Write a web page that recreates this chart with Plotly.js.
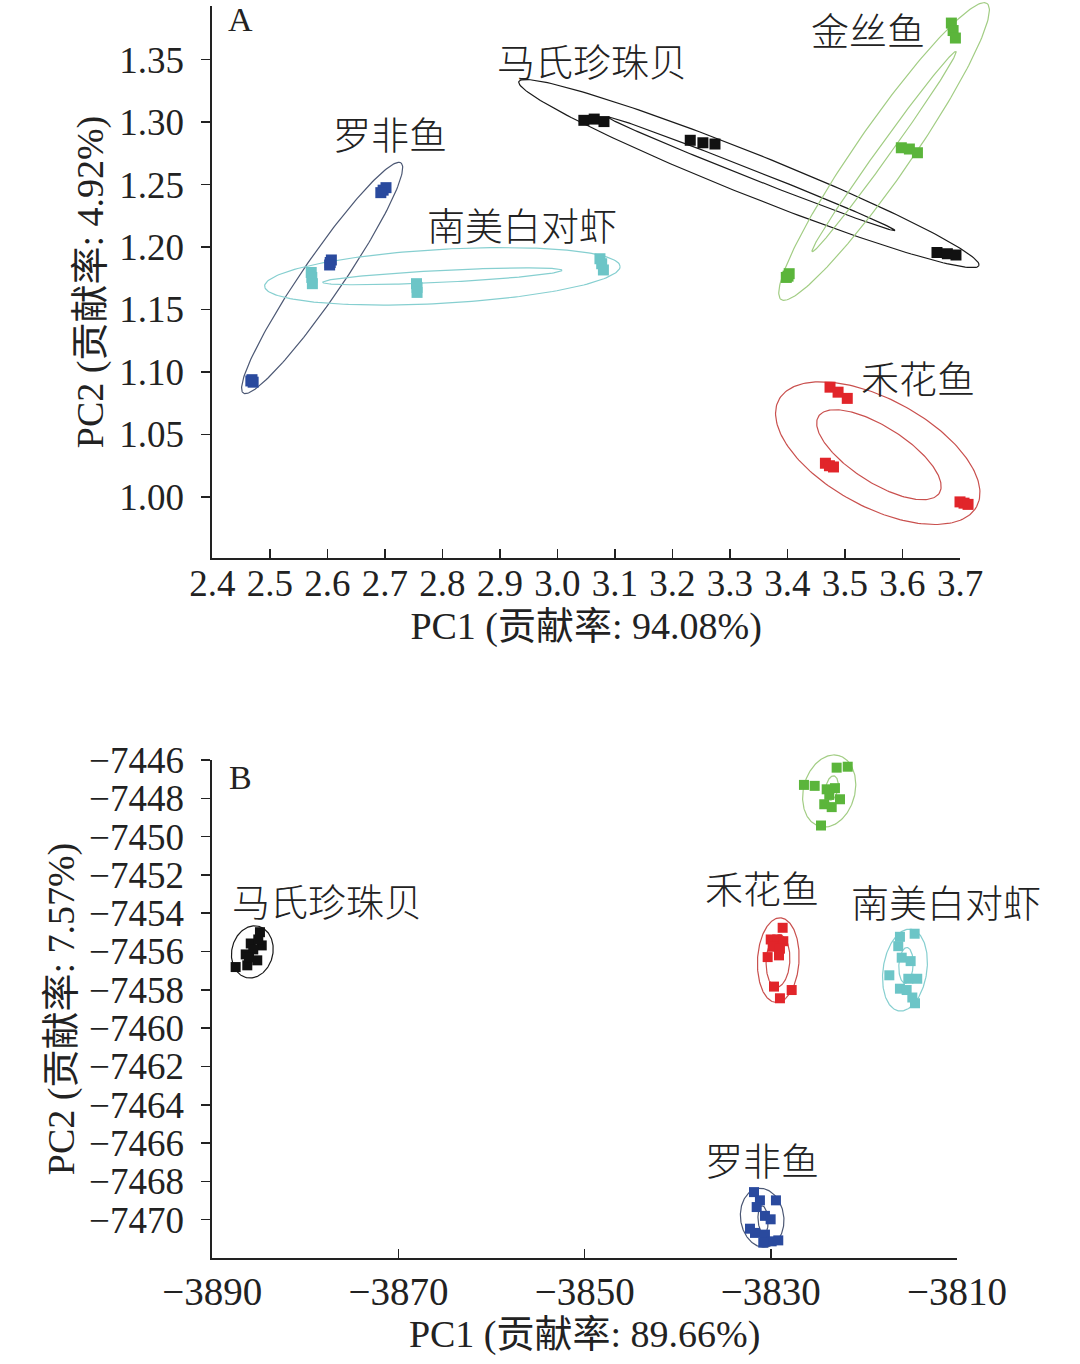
<!DOCTYPE html>
<html>
<head>
<meta charset="utf-8">
<script src="https://cdn.plot.ly/plotly-3.0.1.min.js"></script>
<style>html,body{margin:0;padding:0;background:#fff;}#chart{width:1080px;height:1364px;}</style>
</head>
<body>
<div id="chart"></div>
<script>
// ---------- Panel A data ----------
const groups = ['罗非鱼', '南美白对虾', '马氏珍珠贝', '金丝鱼', '禾花鱼'];

const tilapiaA_x = [2.697, 2.702, 2.693, 2.605, 2.607, 2.604, 2.467, 2.471, 2.469];
const tilapiaA_y = [1.246, 1.248, 1.244, 1.188, 1.190, 1.186, 1.093, 1.092, 1.094];
const shrimpA_x  = [2.572, 2.573, 2.574, 2.755, 2.756, 2.756, 3.074, 3.077, 3.080];
const shrimpA_y  = [1.180, 1.176, 1.171, 1.171, 1.168, 1.164, 1.191, 1.187, 1.182];
const pearlA_x   = [3.046, 3.064, 3.081, 3.231, 3.253, 3.274, 3.660, 3.678, 3.693];
const pearlA_y   = [1.302, 1.303, 1.301, 1.286, 1.284, 1.283, 1.196, 1.195, 1.194];
const goldA_x    = [3.685, 3.688, 3.692, 3.598, 3.612, 3.626, 3.398, 3.403, 3.401];
const goldA_y    = [1.380, 1.374, 1.368, 1.280, 1.279, 1.276, 1.176, 1.179, 1.177];
const carpA_x    = [3.474, 3.488, 3.504, 3.466, 3.473, 3.480, 3.700, 3.707, 3.714];
const carpA_y    = [1.088, 1.084, 1.079, 1.027, 1.025, 1.024, 0.996, 0.995, 0.994];

// confidence ellipses: centre, one end of the major axis, minor/major ratio
const ellA_group = [0, 1, 1, 2, 2, 3, 3, 4, 4];
const ellA_cx = [2.591, 2.800, 2.800, 3.333, 3.338, 3.568, 3.568, 3.557, 3.559];
const ellA_cy = [1.1756, 1.1769, 1.1769, 1.2593, 1.2590, 1.2770, 1.2770, 1.0351, 1.0338];
const ellA_ex = [2.728, 3.109, 3.008, 3.733, 3.587, 3.747, 3.693, 3.729, 3.664];
const ellA_ey = [1.2679, 1.1849, 1.1817, 1.1855, 1.2136, 1.3957, 1.3572, 0.9923, 1.0030];
const ellA_ratio = [0.145, 0.152, 0.05, 0.085, 0.028, 0.15, 0.05, 0.48, 0.39];

const labelA_x = [2.709, 2.939, 3.060, 3.540, 3.627];
const labelA_y = [1.292, 1.219, 1.351, 1.376, 1.0964];

// ---------- Panel B data ----------
const pearlB_x = [-3887.49, -3886.24, -3886.41, -3885.87, -3884.88, -3884.69, -3885.17, -3885.60, -3885.06, -3886.06];
const pearlB_y = [-7456.81, -7456.72, -7456.15, -7455.58, -7454.99, -7455.68, -7456.46, -7455.89, -7455.37, -7456.30];
const goldB_x  = [-3822.93, -3821.74, -3826.44, -3825.29, -3824.00, -3823.11, -3823.72, -3822.57, -3824.26, -3823.46, -3824.61];
const goldB_y  = [-7446.40, -7446.35, -7447.30, -7447.35, -7447.53, -7447.47, -7447.82, -7448.05, -7448.31, -7448.46, -7449.42];
const carpB_x  = [-3828.73, -3830.01, -3829.31, -3828.66, -3829.80, -3829.02, -3830.34, -3829.12, -3829.66, -3829.02, -3827.76];
const carpB_y  = [-7454.76, -7455.37, -7455.37, -7455.46, -7455.75, -7455.85, -7456.29, -7456.20, -7457.83, -7458.44, -7458.01];
const shrimpB_x = [-3816.13, -3814.55, -3816.31, -3815.94, -3814.98, -3817.27, -3815.23, -3814.27, -3816.13, -3815.41, -3814.80, -3814.51];
const shrimpB_y = [-7455.23, -7455.07, -7455.72, -7456.32, -7456.50, -7457.24, -7457.42, -7457.42, -7457.94, -7458.01, -7458.40, -7458.70];
const tilapiaB_x = [-3831.81, -3831.17, -3829.45, -3831.52, -3830.63, -3830.02, -3832.24, -3831.70, -3830.63, -3829.91, -3829.20, -3830.81];
const tilapiaB_y = [-7468.56, -7468.99, -7468.99, -7469.34, -7469.80, -7469.98, -7470.47, -7470.69, -7470.78, -7471.13, -7471.08, -7471.20];

const ellB_group = [2, 3, 3, 4, 4, 1, 1, 0, 0];
const ellB_cx = [-3885.70, -3823.73, -3823.43, -3829.20, -3829.23, -3815.59, -3815.48, -3830.93, -3830.84];
const ellB_cy = [-7456.02, -7447.62, -7447.46, -7456.45, -7456.49, -7456.97, -7456.72, -7469.90, -7470.01];
const ellB_ex = [-3885.06, -3822.70, -3823.22, -3828.96, -3829.07, -3814.94, -3815.37, -3831.38, -3830.95];
const ellB_ey = [-7454.68, -7445.77, -7446.83, -7454.24, -7455.12, -7454.84, -7455.79, -7468.37, -7469.27];
const ellB_ratio = [0.78, 0.70, 0.5, 0.49, 0.45, 0.53, 0.4, 0.73, 0.35];

const labelB_x = [-3830.96, -3811.20, -3877.66, -3822.27, -3830.96];
const labelB_y = [-7466.82, -7453.34, -7453.29, -7444.33, -7452.61];

// ---------- ticks ----------
const xA_ticks = [2.4, 2.5, 2.6, 2.7, 2.8, 2.9, 3.0, 3.1, 3.2, 3.3, 3.4, 3.5, 3.6, 3.7];
const yA_ticks = [1.00, 1.05, 1.10, 1.15, 1.20, 1.25, 1.30, 1.35];
const xB_ticks = [-3890, -3870, -3850, -3830, -3810];
const yB_ticks = [-7446, -7448, -7450, -7452, -7454, -7456, -7458, -7460, -7462, -7464, -7466, -7468, -7470];

const titles = {
  xA: 'PC1 (贡献率: 94.08%)', yA: 'PC2 (贡献率: 4.92%)',
  xB: 'PC1 (贡献率: 89.66%)', yB: 'PC2 (贡献率: 7.57%)'
};

// ---------- styles / geometry ----------
const markerColor = ['#2a4a9e', '#6cc5c7', '#111111', '#5bb53b', '#e1252a'];
const ellipseColor = ['#4c5874', '#86cfd0', '#1a1a1a', '#a2cd84', '#c9504e'];
const W = 1080, H = 1364;

// frame (visible axes): pixel edges and nominal ranges
const frA = {x0: 212.3, x1: 960, y0: 558, y1: 6, rx: [2.4, 3.7], ry: [0.951, 1.393]};
const frB = {x0: 212.3, x1: 957, y0: 1258, y1: 760, rx: [-3890, -3810], ry: [-7472, -7446]};
// data area extends past the frame so marks are not clipped at the frame edge
const extA = {rx: [2.4, 3.77], ry: [0.951, 1.3985]};
const extB = {rx: [-3890, -3810], ry: [-7472, -7445.4]};

function geom(fr, ext) {
  const sx = (fr.x1 - fr.x0) / (fr.rx[1] - fr.rx[0]);
  const sy = (fr.y0 - fr.y1) / (fr.ry[1] - fr.ry[0]);
  const px0 = fr.x0 + (ext.rx[0] - fr.rx[0]) * sx, px1 = fr.x0 + (ext.rx[1] - fr.rx[0]) * sx;
  const py0 = fr.y0 - (ext.ry[0] - fr.ry[0]) * sy, py1 = fr.y0 - (ext.ry[1] - fr.ry[0]) * sy;
  return {sx, sy, dx: [px0 / W, px1 / W], dy: [1 - py0 / H, 1 - py1 / H],
    fdx: [fr.x0 / W, fr.x1 / W], fdy: [1 - fr.y0 / H, 1 - fr.y1 / H]};
}
const gA = geom(frA, extA), gB = geom(frB, extB);

function ellipse(cx, cy, ex, ey, r, sx, sy) {
  const ux = (ex - cx) * sx, uy = (ey - cy) * sy;
  const vx = -uy * r, vy = ux * r;
  const xs = [], ys = [], N = 200;
  for (let i = 0; i <= N; i++) {
    const t = 2 * Math.PI * i / N;
    xs.push(cx + (ux * Math.cos(t) + vx * Math.sin(t)) / sx);
    ys.push(cy + (uy * Math.cos(t) + vy * Math.sin(t)) / sy);
  }
  return {xs, ys};
}

const traces = [];
function addEllipses(cxA, cyA, exA, eyA, rA, grp, g, xa, ya) {
  for (let i = 0; i < cxA.length; i++) {
    const e = ellipse(cxA[i], cyA[i], exA[i], eyA[i], rA[i], g.sx, g.sy);
    traces.push({x: e.xs, y: e.ys, xaxis: xa, yaxis: ya, type: 'scatter', mode: 'lines',
      line: {color: ellipseColor[grp[i]], width: 1.2}, hoverinfo: 'skip', showlegend: false});
  }
}
addEllipses(ellA_cx, ellA_cy, ellA_ex, ellA_ey, ellA_ratio, ellA_group, gA, 'x', 'y');
addEllipses(ellB_cx, ellB_cy, ellB_ex, ellB_ey, ellB_ratio, ellB_group, gB, 'x2', 'y2');

const ptsA = [[tilapiaA_x, tilapiaA_y], [shrimpA_x, shrimpA_y], [pearlA_x, pearlA_y], [goldA_x, goldA_y], [carpA_x, carpA_y]];
const ptsB = [[tilapiaB_x, tilapiaB_y], [shrimpB_x, shrimpB_y], [pearlB_x, pearlB_y], [goldB_x, goldB_y], [carpB_x, carpB_y]];
ptsA.forEach((p, g) => traces.push({x: p[0], y: p[1], xaxis: 'x', yaxis: 'y', type: 'scatter', mode: 'markers',
  name: groups[g], cliponaxis: false, marker: {symbol: 'square', size: 11, color: markerColor[g], line: {width: 0}}, showlegend: false}));
ptsB.forEach((p, g) => traces.push({x: p[0], y: p[1], xaxis: 'x2', yaxis: 'y2', type: 'scatter', mode: 'markers',
  name: groups[g], cliponaxis: false, marker: {symbol: 'square', size: 10, color: markerColor[g], line: {width: 0}}, showlegend: false}));
// empty traces so the frame subplots exist
traces.push({x: [], y: [], xaxis: 'x3', yaxis: 'y3', type: 'scatter', mode: 'markers', showlegend: false});
traces.push({x: [], y: [], xaxis: 'x4', yaxis: 'y4', type: 'scatter', mode: 'markers', showlegend: false});

const serif = 'Liberation Serif, Noto Sans CJK SC, serif';
const titleFont = {family: serif, size: 38, color: '#222'};
const fmt = (v, d) => v.toFixed(d).replace('-', '\u2212');

function hidden(extra) {
  return Object.assign({visible: false, showgrid: false, zeroline: false, fixedrange: true}, extra);
}
function frame(extra, fs) {
  return Object.assign({
    showline: true, linewidth: 2, linecolor: '#222', showgrid: false, zeroline: false,
    tickwidth: 1.5, tickcolor: '#222', ticklen: 9, automargin: false, layer: 'above traces',
    tickfont: {family: 'Liberation Serif, serif', size: fs, color: '#222'},
    tickmode: 'array', fixedrange: true
  }, extra);
}

const annotations = [];
groups.forEach((g, i) => {
  annotations.push({text: g, x: labelA_x[i], y: labelA_y[i], xref: 'x', yref: 'y', showarrow: false,
    font: {family: 'Noto Sans CJK SC', size: 38, color: '#222', weight: 300}});
  annotations.push({text: g, x: labelB_x[i], y: labelB_y[i], xref: 'x2', yref: 'y2', showarrow: false,
    font: {family: 'Noto Sans CJK SC', size: 38, color: '#222', weight: 300}});
});
annotations.push({text: 'A', x: 240 / W, y: 1 - 20 / H, xref: 'paper', yref: 'paper', showarrow: false,
  xanchor: 'center', yanchor: 'middle', font: {family: 'Liberation Serif, serif', size: 34, color: '#222'}});
annotations.push({text: 'B', x: 240 / W, y: 1 - 777 / H, xref: 'paper', yref: 'paper', showarrow: false,
  xanchor: 'center', yanchor: 'middle', font: {family: 'Liberation Serif, serif', size: 34, color: '#222'}});

const layout = {
  width: W, height: H, margin: {l: 0, r: 0, t: 0, b: 0}, paper_bgcolor: '#fff', plot_bgcolor: 'rgba(0,0,0,0)',
  showlegend: false,
  // data axes (invisible)
  xaxis: hidden({domain: gA.dx, range: extA.rx, anchor: 'y'}),
  yaxis: hidden({domain: gA.dy, range: extA.ry, anchor: 'x'}),
  xaxis2: hidden({domain: gB.dx, range: extB.rx, anchor: 'y2'}),
  yaxis2: hidden({domain: gB.dy, range: extB.ry, anchor: 'x2'}),
  // frame axes (visible)
  xaxis3: frame({domain: gA.fdx, range: frA.rx, anchor: 'y3', ticks: 'inside', ticklabelstandoff: -8,
    tickvals: xA_ticks, ticktext: xA_ticks.map(v => fmt(v, 1)),
    title: {text: titles.xA, font: titleFont, standoff: 9}}, 37),
  yaxis3: frame({domain: gA.fdy, range: frA.ry, anchor: 'x3', ticks: 'outside', ticklabelstandoff: 10,
    tickvals: yA_ticks, ticktext: yA_ticks.map(v => fmt(v, 2)),
    title: {text: titles.yA, font: titleFont, standoff: 4}}, 37),
  xaxis4: frame({domain: gB.fdx, range: frB.rx, anchor: 'y4', ticks: 'inside', ticklabelstandoff: -2,
    tickvals: xB_ticks, ticktext: xB_ticks.map(v => fmt(v, 0)),
    title: {text: titles.xB, font: titleFont, standoff: 8}}, 39),
  yaxis4: frame({domain: gB.fdy, range: frB.ry, anchor: 'x4', ticks: 'outside', ticklabelstandoff: 10,
    tickvals: yB_ticks, ticktext: yB_ticks.map(v => fmt(v, 0)),
    title: {text: titles.yB, font: titleFont, standoff: 3}}, 37),
  annotations: annotations
};

Plotly.newPlot('chart', traces, layout, {staticPlot: true});
</script>
</body>
</html>
